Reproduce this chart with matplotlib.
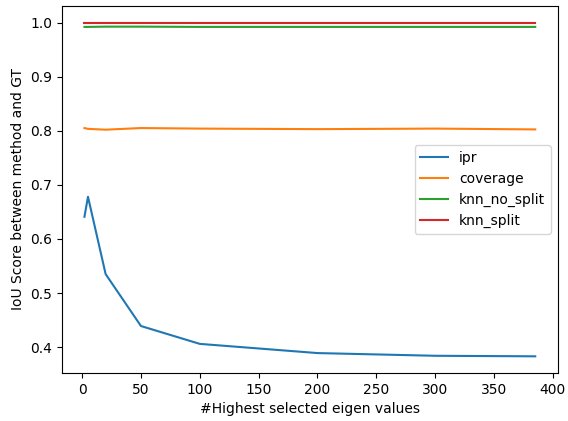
import matplotlib
matplotlib.use("Agg")
import matplotlib.pyplot as plt

# number of highest eigen values kept
n_eigen = [2, 5, 20, 50, 100, 200, 300, 385]

ipr = [0.641, 0.678, 0.535, 0.439, 0.406, 0.389, 0.384, 0.383]
coverage = [0.805, 0.8035, 0.802, 0.805, 0.804, 0.803, 0.804, 0.8025]
knn_no_split = [0.992, 0.992, 0.9925, 0.9925, 0.992, 0.992, 0.992, 0.992]
knn_split = [1.0, 1.0, 1.0, 1.0, 1.0, 1.0, 1.0, 1.0]

fig, ax = plt.subplots(figsize=(5.68, 4.21), dpi=100)
fig.subplots_adjust(left=0.109, right=0.982, top=0.986, bottom=0.114)

ax.plot(n_eigen, ipr, label='ipr')
ax.plot(n_eigen, coverage, label='coverage')
ax.plot(n_eigen, knn_no_split, label='knn_no_split')
ax.plot(n_eigen, knn_split, label='knn_split')

ax.set_xlabel('#Highest selected eigen values')
ax.set_ylabel('IoU Score between method and GT')
ax.legend(loc='center right')

plt.savefig('out.png', dpi=100)
plt.close()
